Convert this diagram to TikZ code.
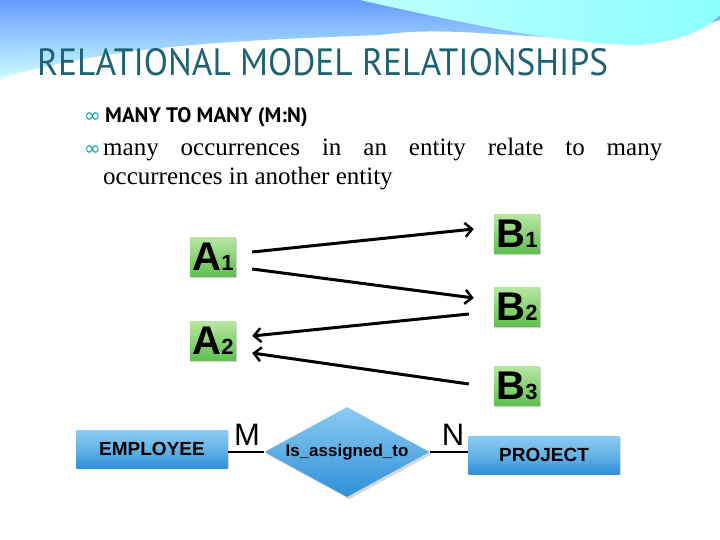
\documentclass[tikz,border=0pt]{standalone}
\usepackage{fontspec}
\setmainfont{Liberation Serif}
\newfontfamily\arialf{Liberation Sans}
\newfontfamily\titlef{PT Sans}
\newfontfamily\symf{DejaVu Sans}
\usetikzlibrary{shapes.geometric,arrows.meta,shadows}
\definecolor{teal1}{HTML}{1F6272}
\definecolor{gtop}{HTML}{B8E6A0}
\definecolor{gbot}{HTML}{5FBF4F}
\definecolor{btop}{HTML}{8CCBF2}
\definecolor{bbot}{HTML}{2E8FD8}
\tikzset{
 gbox/.style={draw=none,top color=gtop,bottom color=gbot,drop shadow={opacity=0.35,shadow xshift=1pt,shadow yshift=-1pt},minimum width=46pt,minimum height=39pt,inner sep=0pt,font=\arialf\bfseries\fontsize{40}{40}\selectfont},
 bbox/.style={draw=none,top color=btop,bottom color=bbot,middle color=btop!60!bbot,drop shadow={opacity=0.3,shadow xshift=1pt,shadow yshift=-1pt},minimum width=151pt,minimum height=38pt,inner sep=0pt,font=\arialf\bfseries\fontsize{19}{19}\selectfont},
 arr/.style={line width=3pt,-{Straight Barb[length=7pt,width=14pt,line width=2.5pt]}},
 card/.style={font=\arialf\fontsize{31}{31}\selectfont,inner sep=0pt,anchor=base},
 bul/.style={text=teal!70!cyan,font=\symf\fontsize{20}{20}\selectfont,inner sep=0pt,anchor=base}
}
\newcommand{\sm}[1]{{\fontsize{22}{22}\selectfont #1}}
\begin{document}
\begin{tikzpicture}[x=1pt,y=-1pt]
\useasboundingbox (0,0) rectangle (720,540);
\fill[white] (0,0) rectangle (720,540);
% background wave
\shade[top color=cyan!35!blue!60!white,bottom color=cyan!20!white] (0,0) -- (720,0) -- (720,20) .. controls (600,60) and (480,20) .. (380,35) .. controls (250,40) and (100,45) .. (0,80) -- cycle;
\shade[left color=cyan!25!white,right color=cyan!45!white] (360,0) .. controls (450,20) and (560,45) .. (640,45) .. controls (690,40) and (710,25) .. (720,15) -- (720,0) -- cycle;
\draw[white,line width=1.5pt,opacity=0.8] (0,78) .. controls (150,40) and (300,40) .. (420,48);
\node[anchor=base west,inner sep=0pt,text=teal1,font=\titlef\fontsize{38}{38}\selectfont] (title) at (37,76) {\scalebox{0.93}[1]{RELATIONAL MODEL RELATIONSHIPS}};
\node[bul,anchor=base west] (b1) at (84,123) {∞};
\node[anchor=base west,inner sep=0pt,font=\titlef\bfseries\fontsize{21}{21}\selectfont] (l1) at (105,123) {MANY TO MANY (M:N)};
\node[bul,anchor=base west] (b2) at (84,156) {∞};
\node[anchor=base west,inner sep=0pt,font=\fontsize{25}{25}\selectfont,text width=559pt,align=justify] (l2) at (103,156) {many\hfill occurrences\hfill in\hfill an\hfill entity\hfill relate\hfill to\hfill many};
\node[anchor=base west,inner sep=0pt,font=\fontsize{25}{25}\selectfont] (l3) at (103,185) {occurrences in another entity};
% green boxes
\node[gbox] (A1) at (213,257) {A\sm{1}};
\node[gbox] (A2) at (213,341) {A\sm{2}};
\node[gbox] (B1) at (517,234) {B\sm{1}};
\node[gbox] (B2) at (517,307) {B\sm{2}};
\node[gbox] (B3) at (517,386) {B\sm{3}};
\draw[arr] ([shift={(16,-5)}]A1.east) -- ([shift={(-20,-5)}]B1.west);
\draw[arr] ([shift={(16,12)}]A1.east) -- ([shift={(-20,-9)}]B2.west);
\draw[arr] ([shift={(-25,7)}]B2.west) -- ([shift={(16,-5)}]A2.east);
\draw[arr] ([shift={(-25,-2)}]B3.west) -- ([shift={(16,12)}]A2.east);
% ER
\node[bbox] (emp) at (152,449) {EMPLOYEE};
\node[bbox] (proj) at (544,455) {PROJECT};
\node[diamond,draw=none,top color=btop,bottom color=bbot,drop shadow={opacity=0.3},minimum width=165pt,minimum height=90pt,aspect=1.8,inner sep=0pt,font=\arialf\bfseries\fontsize{17}{17}\selectfont] (rel) at (347,452) {Is\_assigned\_to};
\draw[line width=2pt] (emp.east) ++(0,3) coordinate (e1) -- (rel.west |- e1);
\draw[line width=2pt] (rel.east) -- (proj.west |- rel.east);
\node[card] (M) at (247,445) {M};
\node[card] (N) at (453,445) {N};
\end{tikzpicture}
\end{document}
